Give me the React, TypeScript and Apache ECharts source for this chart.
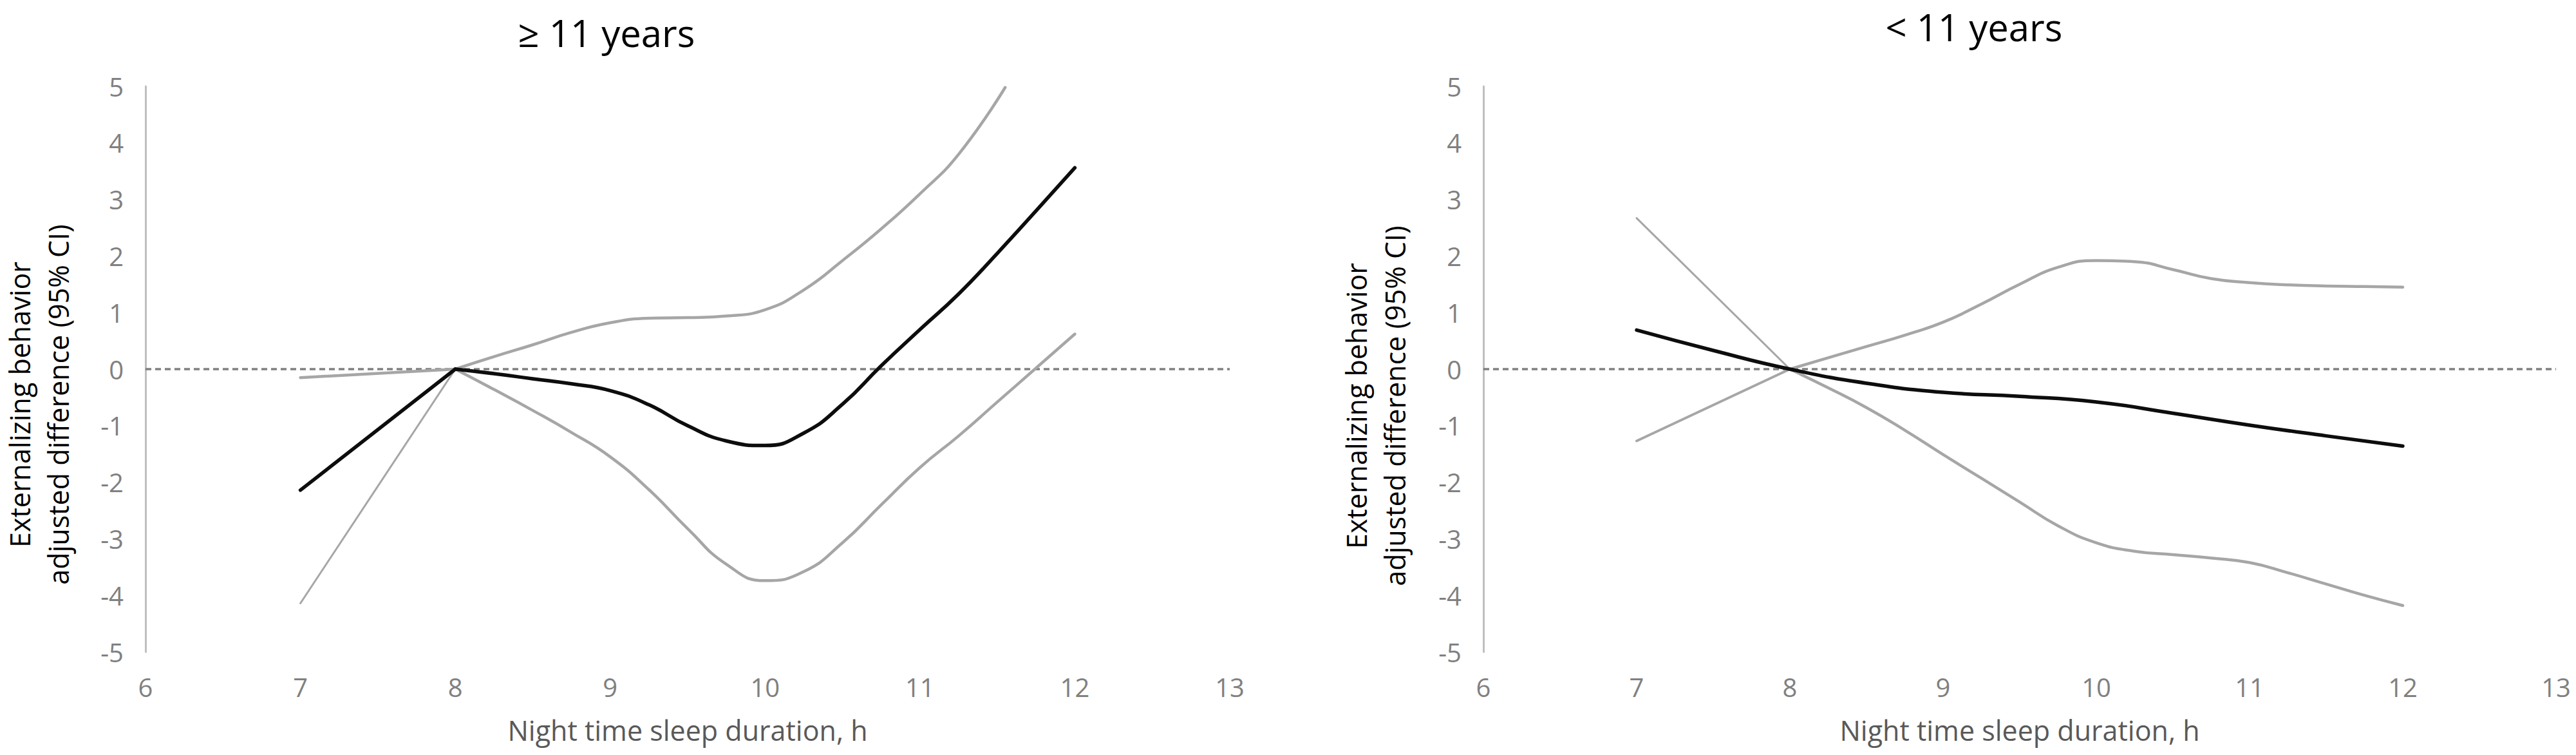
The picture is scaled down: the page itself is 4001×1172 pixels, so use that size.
import React, { useEffect, useRef } from "react";
import * as echarts from "echarts";

// ---------- text ----------
const panelTitles = ["≥ 11 years", "< 11 years"];
const xAxisName = "Night time sleep duration, h";
const yAxisName = "Externalizing behavior\nadjusted difference (95% CI)";

// ---------- axis ranges ----------
const xRange = [6, 13];
const yRange = [-5, 5];

// ---------- ≥ 11 years (left panel) ----------
const olderEstimateStraight = [[7, -2.14], [8, 0]];
const olderEstimateCurve = [
  [8, 0], [8.25, -0.08], [8.5, -0.17], [8.75, -0.26], [9, -0.38], [9.25, -0.63],
  [9.5, -1.0], [9.75, -1.27], [10, -1.35], [10.25, -1.13], [10.5, -0.62],
  [10.75, 0.06], [11, 0.7], [11.25, 1.33], [11.5, 2.05], [11.75, 2.8], [12, 3.56],
];
const olderUpperStraight = [[7, -0.15], [8, 0]];
const olderUpperCurve = [
  [8, 0], [8.25, 0.22], [8.5, 0.43], [8.75, 0.65], [9, 0.82], [9.25, 0.9],
  [9.5, 0.91], [9.75, 0.94], [10, 1.05], [10.25, 1.4], [10.5, 1.92],
  [10.75, 2.48], [11, 3.1], [11.25, 3.8], [11.55, 4.98],
];
const olderLowerStraight = [[7, -4.14], [8, 0]];
const olderLowerCurve = [
  [8, 0], [8.25, -0.36], [8.5, -0.73], [8.75, -1.12], [9, -1.55], [9.25, -2.13],
  [9.5, -2.82], [9.75, -3.45], [10, -3.74], [10.25, -3.58], [10.5, -3.07],
  [10.75, -2.4], [11, -1.74], [11.25, -1.18], [11.5, -0.58], [11.75, 0.02], [12, 0.62],
];

// ---------- < 11 years (right panel) ----------
const youngerEstimateCurve = [
  [7, 0.69], [7.5, 0.33], [8, 0], [8.5, -0.25], [9, -0.41], [9.5, -0.48],
  [10, -0.58], [10.5, -0.78], [11, -0.99], [11.5, -1.18], [12, -1.36],
];
const youngerUpperStraight = [[7, -1.27], [8, 0]];
const youngerUpperCurve = [
  [8, 0], [8.25, 0.2], [8.5, 0.4], [8.75, 0.6], [9, 0.83], [9.25, 1.15],
  [9.5, 1.5], [9.75, 1.8], [10, 1.92], [10.25, 1.9], [10.5, 1.76], [10.75, 1.6],
  [11, 1.53], [11.25, 1.49], [11.5, 1.47], [11.75, 1.46], [12, 1.45],
];
const youngerLowerStraight = [[7, 2.67], [8, 0]];
const youngerLowerCurve = [
  [8, 0], [8.25, -0.33], [8.5, -0.68], [8.75, -1.08], [9, -1.51], [9.25, -1.93],
  [9.5, -2.35], [9.75, -2.77], [10, -3.07], [10.25, -3.22], [10.5, -3.28],
  [10.75, -3.34], [11, -3.42], [11.25, -3.6], [11.5, -3.8], [11.75, -4.0], [12, -4.18],
];

const FONT = "'Open Sans', 'DejaVu Sans', sans-serif";
const GRAY = "#a6a6a6";
const BLACK = "#0d0d0d";

function line(idx: number, data: number[][], color: string, width: number, smooth: boolean | number, z: number, extra: any = {}) {
  return {
    type: "line",
    xAxisIndex: idx,
    yAxisIndex: idx,
    data,
    smooth,
    symbol: "none",
    silent: true,
    z,
    lineStyle: { color, width, cap: "round", join: "round" },
    ...extra,
  };
}

function zeroMark() {
  return {
    markLine: {
      silent: true,
      symbol: "none",
      label: { show: false },
      lineStyle: { color: "#808080", width: 3.5, type: [9, 6] },
      data: [{ yAxis: 0 }],
      z: 1,
    },
  };
}

export default function App() {
  const ref = useRef<HTMLDivElement>(null);

  useEffect(() => {
    if (!ref.current) return;
    const chart = echarts.init(ref.current, undefined, { renderer: "svg" });

    const grids = [
      { left: 226, top: 134, width: 1684, height: 878 },
      { left: 2304, top: 134, width: 1666, height: 878 },
    ];

    const xAxes = grids.map((_, i) => ({
      type: "value",
      gridIndex: i,
      min: xRange[0],
      max: xRange[1],
      interval: 1,
      name: xAxisName,
      nameLocation: "middle",
      nameGap: 100,
      nameTextStyle: { color: "#595959", fontSize: 43, fontFamily: FONT },
      axisLine: { show: false },
      axisTick: { show: false },
      splitLine: { show: false },
      axisLabel: { color: "#808080", fontSize: 40, fontFamily: FONT, margin: 34 },
    }));

    const yAxes = grids.map((_, i) => ({
      type: "value",
      gridIndex: i,
      min: yRange[0],
      max: yRange[1],
      interval: 1,
      axisLine: { show: true, onZero: false, lineStyle: { color: "#bfbfbf", width: 3 } },
      axisTick: { show: false },
      splitLine: { show: false },
      axisLabel: { color: "#808080", fontSize: 40, fontFamily: FONT, margin: 34 },
    }));

    const series: any[] = [];
    // left panel
    series.push(line(0, olderUpperStraight, GRAY, 4.5, false, 3, zeroMark()));
    series.push(line(0, olderUpperCurve, GRAY, 4.5, 0.5, 3));
    series.push(line(0, olderLowerStraight, GRAY, 3, false, 3));
    series.push(line(0, olderLowerCurve, GRAY, 4.5, 0.5, 3));
    series.push(line(0, olderEstimateStraight, BLACK, 5.5, false, 5));
    series.push(line(0, olderEstimateCurve, BLACK, 5.5, 0.5, 5));
    // right panel
    series.push(line(1, youngerUpperStraight, GRAY, 4, false, 3, zeroMark()));
    series.push(line(1, youngerUpperCurve, GRAY, 4.5, 0.5, 3));
    series.push(line(1, youngerLowerStraight, GRAY, 3, false, 3));
    series.push(line(1, youngerLowerCurve, GRAY, 4.5, 0.5, 3));
    series.push(line(1, youngerEstimateCurve, BLACK, 5.5, 0.5, 5));

    const titleCenters = [
      { x: 942, y: 50 },
      { x: 3066, y: 41 },
    ];
    const yNameCenters = [
      { x: 60, y: 628 },
      { x: 2136, y: 630 },
    ];

    const graphic: any[] = [];
    panelTitles.forEach((t, i) => {
      graphic.push({
        type: "text",
        x: titleCenters[i].x,
        y: titleCenters[i].y,
        silent: true,
        style: {
          text: t,
          fill: "#000000",
          fontSize: 58,
          fontFamily: FONT,
          align: "center",
          verticalAlign: "middle",
        },
      });
      graphic.push({
        type: "text",
        x: yNameCenters[i].x,
        y: yNameCenters[i].y,
        rotation: Math.PI / 2,
        silent: true,
        style: {
          text: yAxisName,
          fill: "#000000",
          fontSize: 43,
          lineHeight: 60,
          fontFamily: FONT,
          align: "center",
          verticalAlign: "middle",
        },
      });
    });

    chart.setOption({
      animation: false,
      backgroundColor: "#ffffff",
      grid: grids,
      xAxis: xAxes,
      yAxis: yAxes,
      series,
      graphic,
    });

    return () => chart.dispose();
  }, []);

  return (
    <div
      ref={ref}
      style={{ position: "absolute", left: 0, top: 0, width: 4001, height: 1172 }}
    />
  );
}
